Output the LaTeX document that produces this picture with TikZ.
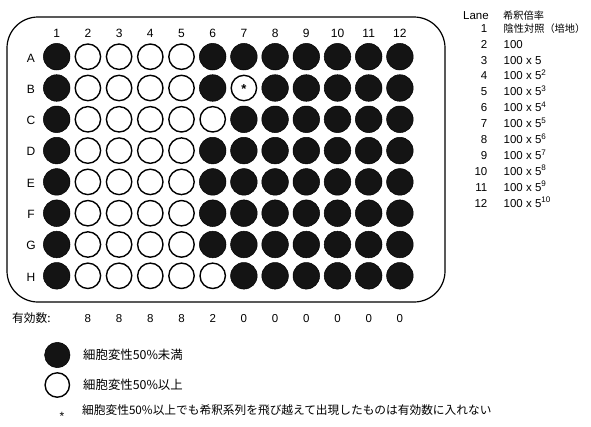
\documentclass[tikz,border=0pt]{standalone}
\usepackage{fontspec}
\setmainfont{Liberation Sans}
\newfontfamily\jp{Noto Sans CJK JP}
\begin{document}
\begin{tikzpicture}[x=1pt,y=-1pt,
  wellF/.style={circle,minimum size=26.6pt,inner sep=0pt,fill=black!92,draw=black,line width=0.5pt},
  wellO/.style={circle,minimum size=25.4pt,inner sep=0pt,fill=white,draw=black,line width=1.4pt},
  lbl/.style={font=\fontsize{12}{14}\selectfont,inner sep=0pt,anchor=base},
  lgtxt/.style={font=\fontsize{11.5}{13}\selectfont,inner sep=0pt,anchor=base west},
  lgnum/.style={font=\fontsize{11.5}{13}\selectfont,inner sep=0pt,anchor=base east},
  jptxt/.style={font=\jp\fontsize{11.7}{13}\selectfont,inner sep=0pt,anchor=base west},
  plate/.style={draw=black,line width=1.2pt,rounded corners=31pt}]
\useasboundingbox (0,0) rectangle (591,426);
\fill[white] (0,0) rectangle (591,426);
% plate
\draw[plate] (7,17) rectangle (445,302);
% column labels
\foreach \c in {1,...,12}{
  \node[lbl] (col\c) at ({56.7+31.2*(\c-1)},37.3) {\c};
}
% wells
\foreach \r/\L in {1/A,2/B,3/C,4/D,5/E,6/F,7/G,8/H}{
  \node[lbl] (row\L) at (31,{56.7+31.3*(\r-1)+5.3}) {\L};
  \foreach \c in {1,...,12}{
    \pgfmathtruncatemacro\isopen{((\c>=2)&&(\c<=5)) || ((\c==6)&&((\r==3)||(\r==8))) || ((\c==7)&&(\r==2)) ? 1 : 0}
    \ifnum\isopen=1
      \node[wellO] (w\L\c) at ({56.7+31.2*(\c-1)},{56.7+31.3*(\r-1)}) {};
    \else
      \node[wellF] (w\L\c) at ({56.7+31.2*(\c-1)},{56.7+31.3*(\r-1)}) {};
    \fi
  }
}
\node[font=\bfseries\fontsize{13}{13}\selectfont,inner sep=0pt,anchor=base] (starB7) at (243.9,93.5) {*};
% effective counts
\node[font=\jp\fontsize{11.7}{13}\selectfont,inner sep=0pt,anchor=base west] (yuko) at (12,322.2) {有効数:};
\foreach \c/\v in {2/8,3/8,4/8,5/8,6/2,7/0,8/0,9/0,10/0,11/0,12/0}{
  \node[font=\fontsize{11.5}{13}\selectfont,inner sep=0pt,anchor=base] (n\c) at ({56.7+31.2*(\c-1)},322) {\v};
}
% legend
\node[wellF,minimum size=25.4pt] (legF) at (57.3,355) {};
\node[wellO,minimum size=24.4pt] (legO) at (57.3,385) {};
\node[jptxt,font=\jp\fontsize{12.4}{13}\selectfont] (legFt) at (83,359.4) {細胞変性50\%未満};
\node[jptxt,font=\jp\fontsize{12.4}{13}\selectfont] (legOt) at (83,389.4) {細胞変性50\%以上};
\node[font=\fontsize{12}{13}\selectfont,inner sep=0pt,anchor=base] (noteStar) at (62,420) {*};
\node[jptxt] (note) at (82,414.2) {細胞変性50\%以上でも希釈系列を飛び越えて出現したものは有効数に入れない};
% lane table
\node[lgtxt] (laneHd) at (463,19) {Lane};
\node[font=\jp\fontsize{10.2}{12}\selectfont,inner sep=0pt,anchor=base west] (dilHd) at (503,19) {希釈倍率};
\foreach \i/\t in {1/{\jp\fontsize{10.2}{12}\selectfont 陰性対照（培地）},2/{100},3/{100 x 5},4/{100 x 5\textsuperscript{2}},5/{100 x 5\textsuperscript{3}},6/{100 x 5\textsuperscript{4}},7/{100 x 5\textsuperscript{5}},8/{100 x 5\textsuperscript{6}},9/{100 x 5\textsuperscript{7}},10/{100 x 5\textsuperscript{8}},11/{100 x 5\textsuperscript{9}},12/{100 x 5\textsuperscript{10}}}{
  \node[lgnum] (ln\i) at (487.5,{32.2+15.9*(\i-1)}) {\i};
  \node[lgtxt] (ld\i) at (503.5,{32.2+15.9*(\i-1)}) {\t};
}
\end{tikzpicture}
\end{document}
